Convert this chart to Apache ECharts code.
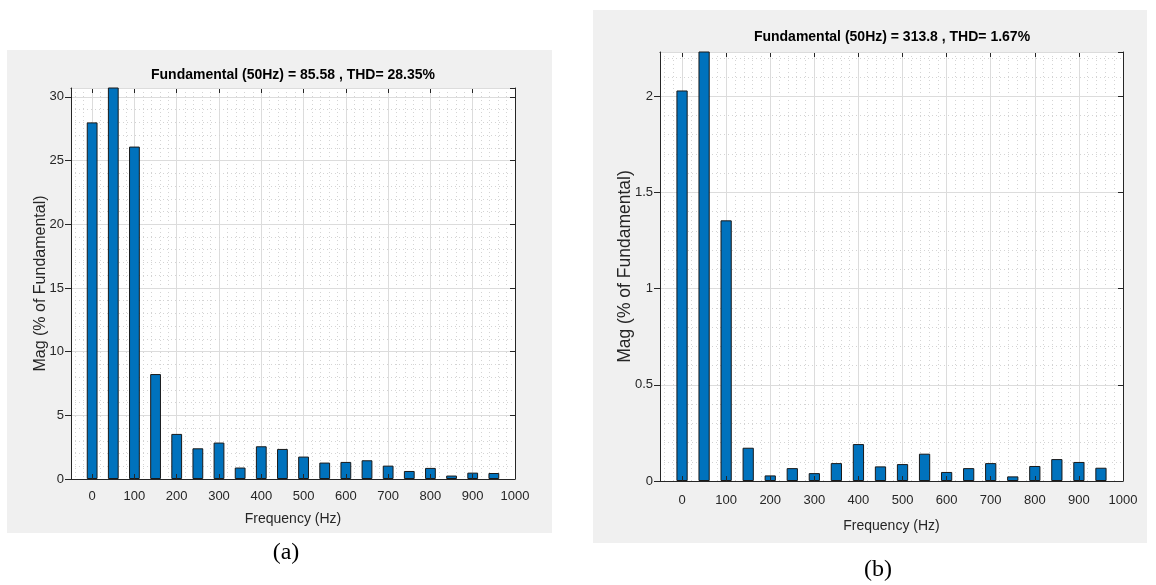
<!DOCTYPE html>
<html>
<head>
<meta charset="utf-8">
<script src="https://cdn.jsdelivr.net/npm/echarts@6/dist/echarts.min.js"></script>
<style>
html,body{margin:0;padding:0;background:#ffffff;}
#c{width:1156px;height:585px;}
</style>
</head>
<body>
<div id="c"></div>
<script>
// ---- data ----
const freq = [0, 50, 100, 150, 200, 250, 300, 350, 400, 450, 500, 550, 600, 650, 700, 750, 800, 850, 900, 950];
const magA = [28.0, 100, 26.1, 8.24, 3.54, 2.41, 2.86, 0.9, 2.57, 2.36, 1.76, 1.29, 1.34, 1.47, 1.05, 0.63, 0.87, 0.27, 0.5, 0.47];
const magB = [2.03, 100, 1.355, 0.173, 0.029, 0.067, 0.041, 0.093, 0.192, 0.076, 0.088, 0.142, 0.047, 0.067, 0.093, 0.024, 0.078, 0.114, 0.099, 0.069];
const xTickValues = [0, 100, 200, 300, 400, 500, 600, 700, 800, 900, 1000];
const xMinorValues = [];
for (let v = -40; v <= 1000; v += 20) xMinorValues.push(v);
const titleA = 'Fundamental (50Hz) = 85.58 , THD= 28.35%';
const titleB = 'Fundamental (50Hz) = 313.8 , THD= 1.67%';
const xName = 'Frequency (Hz)';
const yName = 'Mag (% of Fundamental)';
const panelA = {yMax: 30.7, yInterval: 5};
const panelB = {yMax: 2.23, yInterval: 0.5};

// ---- styles ----
const FONT = 'Liberation Sans, Arial, Helvetica, sans-serif';
const TXT = '#262626';
const AXC = '#262626';
const MAJ = '#dcdcdc';
const MIN = '#d4d4d4';

function xAxesFor(gi, labelMargin, nameGap) {
  return [
    { // minor vertical grid
      gridIndex: gi, type: 'value', min: -50, max: 1000, position: 'bottom', z: 0,
      axisLine: {show: false, onZero: false},
      axisTick: {show: false, customValues: xMinorValues},
      axisLabel: {show: false},
      splitLine: {show: true, lineStyle: {color: MIN, type: [1, 3], width: 1}}
    },
    { // top axis + major vertical grid
      gridIndex: gi, type: 'value', min: -50, max: 1000, position: 'top', z: 0,
      axisLine: {show: true, onZero: false, lineStyle: {color: AXC, width: 1}},
      axisTick: {show: true, inside: true, length: 5, customValues: xTickValues, lineStyle: {color: AXC}},
      axisLabel: {show: false},
      splitLine: {show: true, lineStyle: {color: MAJ, width: 1}}
    },
    { // bottom axis with labels
      gridIndex: gi, type: 'value', min: -50, max: 1000, position: 'bottom', z: 5,
      name: xName, nameLocation: 'middle', nameGap: nameGap, nameMoveOverlap: false,
      nameTextStyle: {fontFamily: FONT, fontSize: 14, color: TXT},
      axisLine: {show: true, onZero: false, lineStyle: {color: AXC, width: 1}},
      axisTick: {show: true, inside: true, length: 5, customValues: xTickValues, lineStyle: {color: AXC}},
      axisLabel: {show: true, customValues: xTickValues, margin: labelMargin, fontFamily: FONT, fontSize: 13, color: TXT,
                  formatter: v => String(v)},
      splitLine: {show: false}
    }
  ];
}
function yAxesFor(gi, p, labelMargin, nameGap, nameSize) {
  return [
    {
      gridIndex: gi, type: 'value', min: 0, max: p.yMax, interval: p.yInterval, position: 'left', z: 1,
      name: yName, nameLocation: 'middle', nameGap: nameGap, nameRotate: 90, nameMoveOverlap: false,
      nameTextStyle: {fontFamily: FONT, fontSize: nameSize, color: TXT},
      axisLine: {show: true, onZero: false, lineStyle: {color: AXC, width: 1}},
      axisTick: {show: true, inside: false, length: 6, lineStyle: {color: AXC}},
      axisLabel: {show: true, showMaxLabel: false, margin: labelMargin, fontFamily: FONT, fontSize: 13, color: TXT,
                  formatter: v => String(v)},
      splitLine: {show: true, lineStyle: {color: MAJ, width: 1}},
      minorTick: {show: false, splitNumber: 5},
      minorSplitLine: {show: true, lineStyle: {color: MIN, type: [1, 3], width: 1}}
    },
    {
      gridIndex: gi, type: 'value', min: 0, max: p.yMax, interval: p.yInterval, position: 'right', z: 5,
      axisLine: {show: true, onZero: false, lineStyle: {color: AXC, width: 1}},
      axisTick: {show: true, inside: true, length: 5, lineStyle: {color: AXC}},
      axisLabel: {show: false},
      splitLine: {show: false}
    }
  ];
}
function barSeries(xi, yi, mags) {
  return {
    type: 'bar', xAxisIndex: xi, yAxisIndex: yi, z: 2,
    data: freq.map((f, i) => [f, mags[i]]),
    barWidth: '51%',
    clip: true,
    itemStyle: {color: '#0072BD', borderColor: '#1a1a1a', borderWidth: 1},
    emphasis: {disabled: true},
    animation: false
  };
}

const chart = echarts.init(document.getElementById('c'), null, {renderer: 'canvas'});
chart.setOption({
  animation: false,
  backgroundColor: '#ffffff',
  graphic: [
    {type: 'rect', z: -10, shape: {x: 7, y: 50, width: 545, height: 483}, style: {fill: '#f0f0f0'}},
    {type: 'rect', z: -10, shape: {x: 593, y: 10, width: 554, height: 533}, style: {fill: '#f0f0f0'}},
    {type: 'text', x: 286, y: 553, style: {text: '(a)', font: '24px "Liberation Serif", "Times New Roman", serif', fill: '#000', textAlign: 'center', textVerticalAlign: 'middle'}},
    {type: 'text', x: 878, y: 570, style: {text: '(b)', font: '24px "Liberation Serif", "Times New Roman", serif', fill: '#000', textAlign: 'center', textVerticalAlign: 'middle'}}
  ],
  title: [
    {text: titleA, left: 293, top: 68, textAlign: 'center', padding: 0,
     textStyle: {fontFamily: FONT, fontSize: 14, fontWeight: 'bold', color: '#000'}},
    {text: titleB, left: 892, top: 30, textAlign: 'center', padding: 0,
     textStyle: {fontFamily: FONT, fontSize: 14, fontWeight: 'bold', color: '#000'}}
  ],
  grid: [
    {left: 71, top: 88, width: 444, height: 391, containLabel: false, show: true, backgroundColor: '#ffffff', borderWidth: 0},
    {left: 660, top: 52, width: 463, height: 429, containLabel: false, show: true, backgroundColor: '#ffffff', borderWidth: 0}
  ],
  xAxis: [].concat(xAxesFor(0, 11, 33), xAxesFor(1, 13, 38)),
  yAxis: [].concat(yAxesFor(0, panelA, 7, 22, 16), yAxesFor(1, panelB, 7, 26, 17.5)),
  series: [barSeries(2, 0, magA), barSeries(5, 2, magB)]
});
</script>
</body>
</html>
